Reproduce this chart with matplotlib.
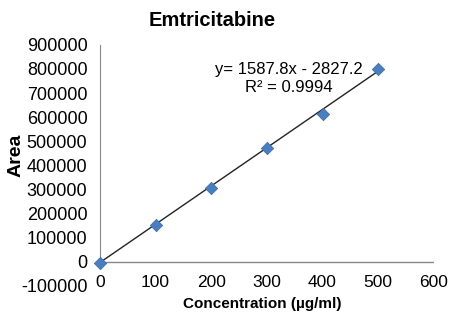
import numpy as np
import matplotlib.pyplot as plt

plt.rcParams['font.family'] = ['Liberation Sans', 'DejaVu Sans']

conc = [0, 100, 200, 300, 400, 500]
area = [-5000, 153000, 307000, 472000, 615000, 798000]
slope = 1587.8
intercept = -2827.2

fig = plt.figure(figsize=(4.5, 3.16), dpi=100)
ax = fig.add_axes([0.222, 0.095, 0.742, 0.763])

xfit = np.array([0, 500])
ax.plot(xfit, slope * xfit + intercept, color='#222222', lw=1.0, zorder=2)
ax.scatter(conc, area, marker='D', s=40, color='#4a7ebf', edgecolors='#3a6aa8',
           linewidths=0.5, zorder=3, clip_on=False)

ax.set_xlim(0, 600)
ax.set_ylim(-100000, 900000)
ax.set_xticks(range(0, 601, 100))
ax.set_yticks(range(-100000, 900001, 100000))
ax.set_yticklabels([str(v) for v in range(-100000, 900001, 100000)])

for s in ['top', 'right', 'bottom']:
    ax.spines[s].set_visible(False)
ax.spines['left'].set_bounds(0, 900000)
ax.spines['left'].set_color('#888888')
ax.axhline(0, color='#888888', lw=1.0, zorder=1)
ax.tick_params(length=0)
ax.tick_params(axis='y', pad=9, labelsize=13)
ax.tick_params(axis='x', pad=-8, labelsize=12.5)

fig.text(212 / 450, 1 - 20 / 316, 'Emtricitabine', fontsize=14.5, fontweight='bold',
         ha='center', va='center')
fig.text(16 / 450, 1 - 155 / 316, 'Area', fontsize=14, fontweight='bold',
         rotation=90, ha='center', va='center')
fig.text(262 / 450, 1 - 304 / 316, 'Concentration (µg/ml)', fontsize=11,
         fontweight='bold', ha='center', va='center')

ax.text(340, 797000, 'y= 1587.8x - 2827.2', fontsize=12, ha='center', va='center')
ax.text(340, 722000, 'R² = 0.9994', fontsize=12, ha='center', va='center')

fig.savefig('out.png', dpi=100)
